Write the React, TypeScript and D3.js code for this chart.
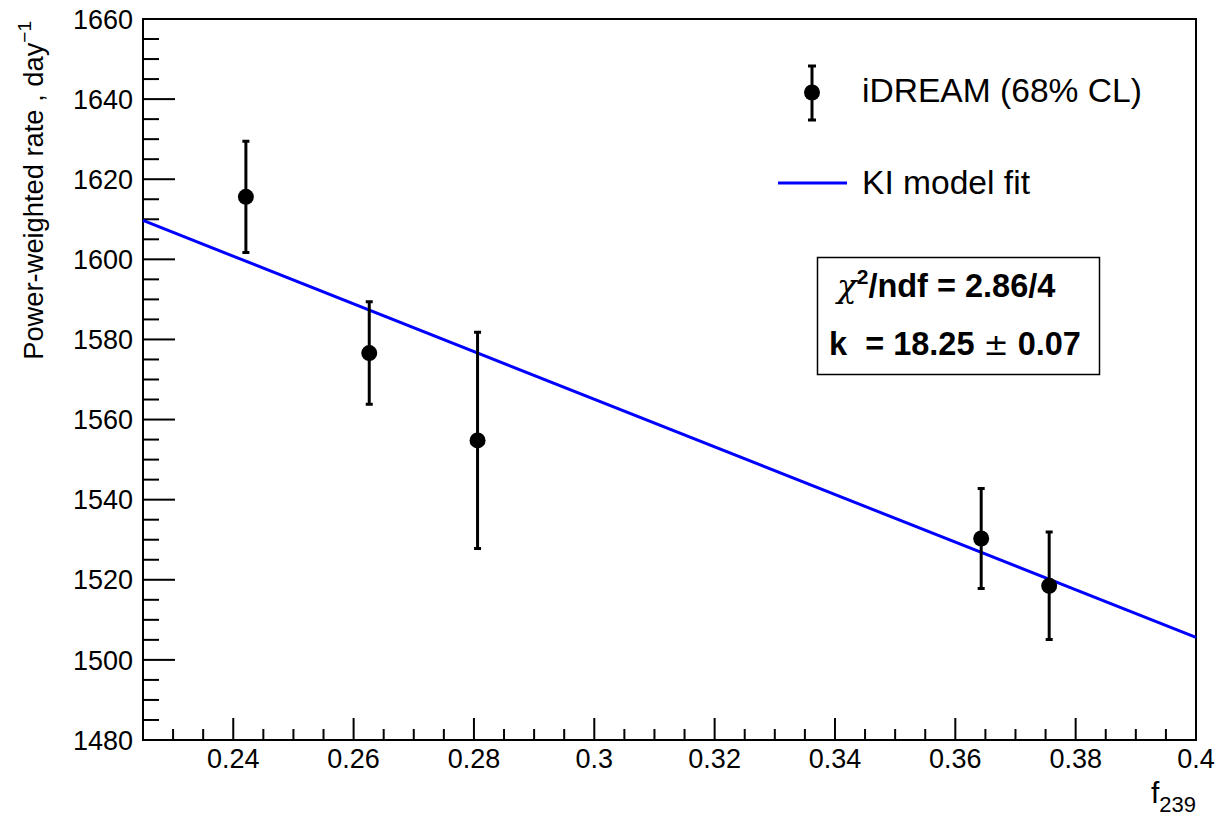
import React, { useRef, useEffect } from "react";
import * as d3 from "d3";

// iDREAM points
const f239 = [0.2421, 0.2626, 0.2806, 0.3643, 0.3756];
const rate = [1615.6, 1576.6, 1554.8, 1530.3, 1518.5];
const rateErr = [13.9, 12.8, 27.0, 12.5, 13.4];

// KI model fit (straight line), end points
const fitX = [0.225, 0.4];
const fitY = [1609.7, 1505.6];

const yMajor = d3.range(1480, 1661, 20);
const yMinor = d3.range(1480, 1661, 5);
const xMajor = d3.range(0.24, 0.4001, 0.02);
const xMinor = d3.range(0.23, 0.4001, 0.005);

const legendLabels = ["iDREAM (68% CL)", "KI model fit"];

const FONT = "'Liberation Sans', Arial, Helvetica, sans-serif";

const App = () => {
  const ref = useRef(null);

  useEffect(() => {
    const svg = d3.select(ref.current);
    svg.selectAll("*").remove();

    const width = 1217;
    const height = 816;
    const margin = { top: 19, right: 21, bottom: 76, left: 143 };

    svg.attr("width", width).attr("height", height);

    const x = d3
      .scaleLinear()
      .domain([0.225, 0.4])
      .range([margin.left, width - margin.right]);

    const y = d3
      .scaleLinear()
      .domain([1480, 1660])
      .range([height - margin.bottom, margin.top]);

    const x0 = x.range()[0];
    const x1 = x.range()[1];
    const y0 = y.range()[0];
    const y1 = y.range()[1];

    // y ticks (inside frame)
    const gy = svg.append("g").attr("stroke", "#000").attr("stroke-width", 2);
    gy.selectAll("line.minor")
      .data(yMinor)
      .join("line")
      .attr("x1", x0)
      .attr("x2", (d) => x0 + (yMajor.some((m) => Math.abs(m - d) < 1e-6) ? 32 : 16))
      .attr("y1", (d) => y(d))
      .attr("y2", (d) => y(d));

    svg
      .append("g")
      .selectAll("text")
      .data(yMajor)
      .join("text")
      .attr("x", x0 - 10)
      .attr("y", (d) => y(d))
      .attr("dy", "0.36em")
      .attr("text-anchor", "end")
      .attr("font-family", FONT)
      .attr("font-size", 27)
      .text((d) => d);

    // x ticks
    const gx = svg.append("g").attr("stroke", "#000").attr("stroke-width", 2);
    gx.selectAll("line")
      .data(xMinor)
      .join("line")
      .attr("x1", (d) => x(d))
      .attr("x2", (d) => x(d))
      .attr("y1", y0)
      .attr("y2", (d) =>
        y0 - (xMajor.some((m) => Math.abs(m - d) < 1e-6) ? 22 : 11)
      );

    svg
      .append("g")
      .selectAll("text")
      .data(xMajor)
      .join("text")
      .attr("x", (d) => x(d))
      .attr("y", y0 + 28)
      .attr("text-anchor", "middle")
      .attr("font-family", FONT)
      .attr("font-size", 27)
      .text((d) => String(+d.toFixed(2)));

    // frame
    svg
      .append("rect")
      .attr("x", x0)
      .attr("y", y1)
      .attr("width", x1 - x0)
      .attr("height", y0 - y1)
      .attr("fill", "none")
      .attr("stroke", "#000")
      .attr("stroke-width", 2);

    // fit line
    const line = d3
      .line()
      .x((d) => x(d[0]))
      .y((d) => y(d[1]));
    svg
      .append("path")
      .datum(fitX.map((v, i) => [v, fitY[i]]))
      .attr("d", line)
      .attr("fill", "none")
      .attr("stroke", "#0000ff")
      .attr("stroke-width", 3);

    // error bars + markers
    const pts = svg.append("g");
    const pd = f239.map((v, i) => ({ x: v, y: rate[i], e: rateErr[i] }));
    pts
      .selectAll("line.err")
      .data(pd)
      .join("line")
      .attr("x1", (d) => x(d.x))
      .attr("x2", (d) => x(d.x))
      .attr("y1", (d) => y(d.y - d.e))
      .attr("y2", (d) => y(d.y + d.e))
      .attr("stroke", "#000")
      .attr("stroke-width", 3);
    pts
      .selectAll("path.cap")
      .data(pd)
      .join("path")
      .attr(
        "d",
        (d) =>
          `M${x(d.x) - 3.5},${y(d.y - d.e)}H${x(d.x) + 3.5}M${x(d.x) - 3.5},${y(
            d.y + d.e
          )}H${x(d.x) + 3.5}`
      )
      .attr("stroke", "#000")
      .attr("stroke-width", 3);
    pts
      .selectAll("circle")
      .data(pd)
      .join("circle")
      .attr("cx", (d) => x(d.x))
      .attr("cy", (d) => y(d.y))
      .attr("r", 8)
      .attr("fill", "#000");

    // legend
    const lg = svg.append("g");
    lg.append("line")
      .attr("x1", 812)
      .attr("x2", 812)
      .attr("y1", 66)
      .attr("y2", 120)
      .attr("stroke", "#000")
      .attr("stroke-width", 3);
    lg.append("path")
      .attr("d", "M808,66H816M808,120H816")
      .attr("stroke", "#000")
      .attr("stroke-width", 3);
    lg.append("circle").attr("cx", 812).attr("cy", 92.5).attr("r", 8).attr("fill", "#000");
    lg.append("line")
      .attr("x1", 778)
      .attr("x2", 847)
      .attr("y1", 183)
      .attr("y2", 183)
      .attr("stroke", "#0000ff")
      .attr("stroke-width", 3);
    lg.selectAll("text")
      .data(legendLabels)
      .join("text")
      .attr("x", 862)
      .attr("y", (d, i) => (i === 0 ? 102 : 194))
      .attr("font-family", FONT)
      .attr("font-size", 33.6)
      .text((d) => d);

    // fit stats box
    const sb = svg.append("g");
    sb.append("rect")
      .attr("x", 817.5)
      .attr("y", 257.5)
      .attr("width", 282)
      .attr("height", 117)
      .attr("fill", "#fff")
      .attr("stroke", "#000")
      .attr("stroke-width", 1.5);
    const t1 = sb
      .append("text")
      .attr("x", 837)
      .attr("y", 297)
      .attr("font-family", FONT)
      .attr("font-size", 32.5)
      .attr("font-weight", "bold");
    t1.append("tspan").attr("font-weight", "normal").attr("font-family", "'DejaVu Serif', serif").attr("font-style", "italic").text("χ");
    t1.append("tspan").attr("font-size", 21).attr("dy", -13).text("2");
    t1.append("tspan").attr("dy", 13).text("/ndf = 2.86/4");
    const t2 = sb
      .append("text")
      .attr("x", 829)
      .attr("y", 355)
      .attr("font-family", FONT)
      .attr("font-size", 32.5)
      .attr("font-weight", "bold")
      .attr("xml:space", "preserve");
    t2.append("tspan").text("k  = 18.25 ");
    t2.append("tspan").attr("font-weight", "normal").attr("font-family", "'DejaVu Sans', sans-serif").attr("font-size", 30).text("±");
    t2.append("tspan").text(" 0.07");

    // axis titles
    const xt = svg
      .append("text")
      .attr("x", x1)
      .attr("y", 803)
      .attr("text-anchor", "end")
      .attr("font-family", FONT)
      .attr("font-size", 30);
    xt.append("tspan").text("f");
    xt.append("tspan").attr("font-size", 22).attr("dy", 9).text("239");

    const yt = svg
      .append("text")
      .attr("transform", `translate(43,${y1 + 2}) rotate(-90)`)
      .attr("text-anchor", "end")
      .attr("font-family", FONT)
      .attr("font-size", 27.3);
    yt.append("tspan").text("Power-weighted rate , day");
    yt.append("tspan").attr("font-size", 19).attr("dy", -12).text("−1");
  }, []);

  return (
    <div style={{ position: "absolute", left: 0, top: 0, background: "#fff" }}>
      <svg ref={ref}></svg>
    </div>
  );
};

export default App;
